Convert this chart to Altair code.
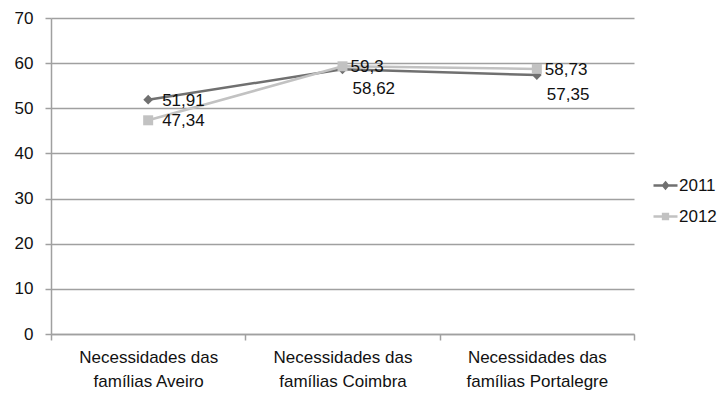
import altair as alt
import pandas as pd

# Categorias e séries
categorias = [
    "Necessidades das famílias Aveiro",
    "Necessidades das famílias Coimbra",
    "Necessidades das famílias Portalegre",
]
anos = ["2011", "2012"]
valores_2011 = [51.91, 58.62, 57.35]
valores_2012 = [47.34, 59.3, 58.73]

cores = ["#707070", "#c2c2c2"]
cinza_eixo = "#a0a0a0"
fonte = "Liberation Sans"

linhas = []
for ano, vals in zip(anos, [valores_2011, valores_2012]):
    for cat, v in zip(categorias, vals):
        linhas.append({"categoria": cat, "ano": ano, "valor": v})
df = pd.DataFrame(linhas)

x_enc = alt.X(
    "categoria:N",
    sort=categorias,
    scale=alt.Scale(type="band", paddingInner=0, paddingOuter=0),
    axis=alt.Axis(
        title=None,
        tickBand="extent",
        grid=False,
        labelAngle=0,
        labelFont=fonte,
        labelFontSize=17,
        labelColor="#111111",
        labelLineHeight=24,
        labelPadding=9,
        labelExpr="split(replace(datum.label, ' famílias', '|famílias'), '|')",
        domainColor=cinza_eixo,
        domainWidth=1.5,
        tickColor=cinza_eixo,
        tickWidth=1.5,
        tickSize=6,
    ),
)
y_enc = alt.Y(
    "valor:Q",
    scale=alt.Scale(domain=[0, 70], nice=False),
    axis=alt.Axis(
        title=None,
        values=list(range(0, 71, 10)),
        grid=True,
        gridColor=cinza_eixo,
        gridWidth=1.5,
        domainColor=cinza_eixo,
        domainWidth=1.5,
        tickColor=cinza_eixo,
        tickWidth=1.5,
        tickSize=6,
        labelFont=fonte,
        labelFontSize=17,
        labelColor="#111111",
        labelPadding=12,
    ),
)

escala_cor = alt.Scale(domain=anos, range=cores)

base = alt.Chart(df).encode(x=x_enc, y=y_enc)

so_2011 = alt.datum.ano == "2011"
so_2012 = alt.datum.ano == "2012"

linha_2011 = base.transform_filter(so_2011).mark_line(strokeWidth=2.5, color=cores[0])
linha_2012 = base.transform_filter(so_2012).mark_line(strokeWidth=2.5, color=cores[1])

pontos_2011 = base.transform_filter(so_2011).mark_point(
    shape="diamond", filled=True, size=95, color=cores[0], opacity=1
)
pontos_2012 = base.transform_filter(so_2012).mark_point(
    shape="square", filled=True, size=100, color=cores[1], opacity=1
)

# Legenda: traço com marcador ao centro
simbolo_2011 = "M-1,0L1,0M0,-0.24L0.2,0L0,0.24L-0.2,0Z"
simbolo_2012 = "M-1,0L1,0M-0.2,-0.2L0.2,-0.2L0.2,0.2L-0.2,0.2Z"
legenda = base.mark_point(opacity=0, filled=True, strokeWidth=2.5).encode(
    color=alt.Color(
        "ano:N",
        scale=escala_cor,
        legend=alt.Legend(
            title=None,
            orient="none",
            legendX=601,
            legendY=154,
            labelFont=fonte,
            labelFontSize=17,
            labelColor="#111111",
            labelOffset=0,
            symbolSize=576,
            symbolOpacity=1,
            symbolStrokeWidth=2.5,
            rowPadding=9,
        ),
    ),
    stroke=alt.Stroke("ano:N", scale=escala_cor),
    shape=alt.Shape(
        "ano:N", scale=alt.Scale(domain=anos, range=[simbolo_2011, simbolo_2012])
    ),
)

texto = dict(align="left", baseline="middle", font=fonte, fontSize=17, color="#111111")
rotulo = alt.Text("rotulo:N")

rotulos_aveiro = (
    base.transform_filter(alt.datum.categoria == categorias[0])
    .transform_calculate(rotulo="replace(toString(datum.valor), '.', ',')")
    .mark_text(dx=14, dy=1, **texto)
    .encode(text=rotulo)
)
rotulos_2012 = (
    base.transform_filter(so_2012 & (alt.datum.categoria != categorias[0]))
    .transform_calculate(rotulo="replace(toString(datum.valor), '.', ',')")
    .mark_text(dx=8, dy=1, **texto)
    .encode(text=rotulo)
)
rotulos_2011 = (
    base.transform_filter(so_2011 & (alt.datum.categoria != categorias[0]))
    .transform_calculate(rotulo="replace(toString(datum.valor), '.', ',')")
    .mark_text(dx=10, dy=20, **texto)
    .encode(text=rotulo)
)

chart = (
    alt.layer(
        linha_2011,
        linha_2012,
        pontos_2011,
        pontos_2012,
        legenda,
        rotulos_aveiro,
        rotulos_2012,
        rotulos_2011,
    )
    .properties(
        width=583,
        height=316,
        autosize=alt.AutoSizeParams(type="none"),
        padding={"left": 51, "top": 18, "right": 86, "bottom": 60},
        background="white",
    )
    .configure_view(stroke=None)
)

chart.save("out.html", embed_options={"renderer": "svg", "actions": False})
